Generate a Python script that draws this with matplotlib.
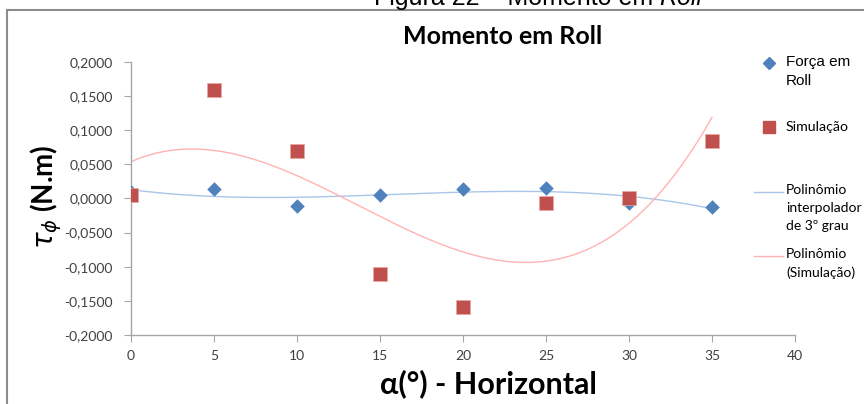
import numpy as np
import matplotlib
matplotlib.use("Agg")
import matplotlib.pyplot as plt
from matplotlib.lines import Line2D

alpha = [0, 5, 10, 15, 20, 25, 30, 35]
forca_roll = [0.010, 0.014, -0.0105, 0.005, 0.014, 0.016, -0.006, -0.012]
simulacao = [0.005, 0.159, 0.0696, -0.1106, -0.1585, -0.006, 0.001, 0.0847]

x_ticks = [0, 5, 10, 15, 20, 25, 30, 35, 40]
y_ticks = [-0.2, -0.15, -0.1, -0.05, 0.0, 0.05, 0.1, 0.15, 0.2]

plt.rcParams['font.family'] = ['Lato', 'DejaVu Sans']

fig = plt.figure(figsize=(8.64, 4.04), dpi=100)
ax = fig.add_axes([131/864, 1-335/404, (795-131)/864, (335-62)/404])

def fx(px):
    return px/864
def fy(py):
    return 1-py/404

xs = np.linspace(0, 35, 300)
pb = np.polyfit(alpha, forca_roll, 3)
pr = np.polyfit(alpha, simulacao, 3)
ax.plot(xs, np.polyval(pb, xs), color='#a9c6ea', lw=1.0, zorder=2)
ax.plot(xs, np.polyval(pr, xs), color='#ffb3b3', lw=1.0, zorder=2)

ax.scatter(alpha, forca_roll, marker='D', s=55, color='#4f81bd', zorder=3, linewidths=0)
ax.scatter(alpha, simulacao, marker='s', s=90, color='#c0504d', zorder=4,
           edgecolors='#e8a6a4', linewidths=0.5)

ax.set_xlim(0, 40)
ax.set_ylim(-0.2, 0.2)
ax.set_xticks(x_ticks)
ax.set_yticks(y_ticks)
ax.set_yticklabels([f"{v:.4f}".replace('.', ',') for v in y_ticks])
for s in ['top', 'right']:
    ax.spines[s].set_visible(False)
for s in ['left', 'bottom']:
    ax.spines[s].set_color('#a6a6a6')
    ax.spines[s].set_linewidth(1.0)
ax.tick_params(axis='both', colors='#a6a6a6', length=5, labelcolor='#404040', labelsize=10)
ax.tick_params(axis='x', pad=6)
ax.tick_params(axis='y', pad=8)

fig.text(fx(488), fy(384), 'α(°) - Horizontal', ha='center', va='center',
         fontsize=22, fontweight='bold')
fig.text(fx(46), fy(197), r'$\boldsymbol{\tau_{\phi}}$ (N.m)', ha='center', va='center',
         rotation=90, fontsize=20, fontweight='bold')

fig.text(fx(503), fy(37), 'Momento em Roll', ha='center', va='center',
         fontsize=18, fontweight='bold')

# cut-off caption at the top
fig.canvas.draw()
r = fig.canvas.get_renderer()
t_roll = fig.text(fx(702), fy(5), 'Roll', ha='right', va='baseline', fontsize=18,
                  style='italic', family=['Liberation Sans', 'DejaVu Sans'])
w = t_roll.get_window_extent(renderer=r).width
fig.text(fx(702) - w/864 - 6/864, fy(5), 'Figura 22 – Momento em', ha='right', va='baseline',
         fontsize=18, family=['Liberation Sans', 'DejaVu Sans'])

# frame
fig.add_artist(Line2D([fx(7), 1], [fy(9.5), fy(9.5)], color='#8c8c8c', lw=1.5))
fig.add_artist(Line2D([fx(7), fx(7)], [0, fy(9.5)], color='#8c8c8c', lw=1.5))

# legend (manual)
fig.add_artist(Line2D([fx(769)], [fy(63)], marker='D', markersize=6, color='#4f81bd', lw=0))
fig.text(fx(786), fy(55), 'Força em\nRoll', va='top', ha='left', fontsize=11,
         family=['Liberation Sans', 'DejaVu Sans'], linespacing=1.45)

fig.add_artist(Line2D([fx(769)], [fy(127)], marker='s', markersize=8, color='#c0504d', lw=0))
fig.text(fx(786), fy(127), 'Simulação', va='center', ha='left', fontsize=10.2)

fig.add_artist(Line2D([fx(754), fx(783)], [fy(192), fy(192)], color='#a9c6ea', lw=1.0))
fig.text(fx(786), fy(184), 'Polinômio\ninterpolador\nde 3º grau', va='top', ha='left',
         fontsize=10, linespacing=1.6)

fig.add_artist(Line2D([fx(754), fx(783)], [fy(256), fy(256)], color='#ffb3b3', lw=1.0))
fig.text(fx(786), fy(248), 'Polinômio\n(Simulação)', va='top', ha='left',
         fontsize=10, linespacing=1.6)

fig.savefig('out.png', dpi=100)
